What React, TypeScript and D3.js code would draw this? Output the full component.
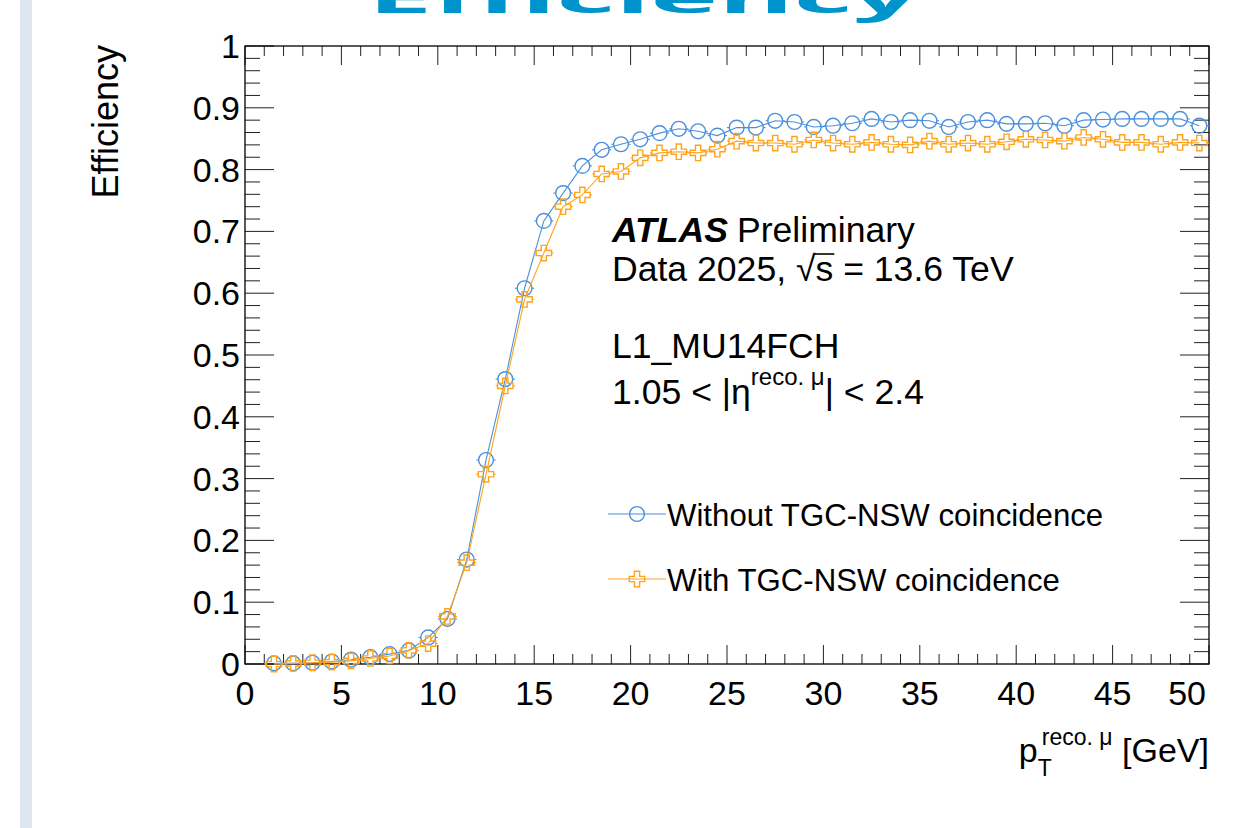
import React, { useRef, useEffect } from 'react';
import * as d3 from 'd3';

// bin centres of p_T (GeV), 1 GeV wide bins
const ptCentres = [
  1.5, 2.5, 3.5, 4.5, 5.5, 6.5, 7.5, 8.5, 9.5, 10.5,
  11.5, 12.5, 13.5, 14.5, 15.5, 16.5, 17.5, 18.5, 19.5, 20.5,
  21.5, 22.5, 23.5, 24.5, 25.5, 26.5, 27.5, 28.5, 29.5, 30.5,
  31.5, 32.5, 33.5, 34.5, 35.5, 36.5, 37.5, 38.5, 39.5, 40.5,
  41.5, 42.5, 43.5, 44.5, 45.5, 46.5, 47.5, 48.5, 49.5,
];
const binHalfWidth = 0.5;

const effWithout = [
  0.001, 0.001, 0.002, 0.004, 0.007, 0.011, 0.016, 0.022, 0.043, 0.073,
  0.169, 0.33, 0.461, 0.608, 0.717, 0.762, 0.806, 0.832, 0.841, 0.849,
  0.859, 0.866, 0.862, 0.855, 0.868, 0.868, 0.879, 0.877, 0.869, 0.871,
  0.875, 0.882, 0.877, 0.88, 0.879, 0.869, 0.877, 0.88, 0.874, 0.874,
  0.875, 0.871, 0.88, 0.881, 0.882, 0.882, 0.882, 0.882, 0.871,
];

const effWith = [
  0.0, 0.001, 0.002, 0.003, 0.005, 0.009, 0.013, 0.022, 0.033, 0.077,
  0.164, 0.307, 0.45, 0.59, 0.665, 0.74, 0.759, 0.793, 0.797, 0.819,
  0.827, 0.829, 0.827, 0.833, 0.846, 0.843, 0.843, 0.841, 0.848, 0.843,
  0.841, 0.844, 0.841, 0.84, 0.846, 0.841, 0.843, 0.841, 0.845, 0.849,
  0.848, 0.846, 0.852, 0.849, 0.844, 0.844, 0.841, 0.844, 0.843,
];

const xTicks = [0, 5, 10, 15, 20, 25, 30, 35, 40, 45, 50];
const yTicks = [0, 0.1, 0.2, 0.3, 0.4, 0.5, 0.6, 0.7, 0.8, 0.9, 1];
const yTickLabels = ['0', '0.1', '0.2', '0.3', '0.4', '0.5', '0.6', '0.7', '0.8', '0.9', '1'];

const legendLabels = ['Without TGC-NSW coincidence', 'With TGC-NSW coincidence'];

const BLUE = '#4a90dc';
const ORANGE = '#ffa31a';
const FONT = 'Liberation Sans, Arial, Helvetica, sans-serif';

const App = () => {
  const svgRef = useRef(null);

  useEffect(() => {
    const width = 1242;
    const height = 828;
    const left = 245;
    const right = 1209;
    const top = 46;
    const bottom = 664;

    const svg = d3.select(svgRef.current);
    svg.selectAll('*').remove();

    const x = d3.scaleLinear().domain([0, 50]).range([left, right]);
    const y = d3.scaleLinear().domain([0, 1]).range([bottom, top]);

    // slide decorations behind the plot
    svg.append('rect').attr('width', width).attr('height', height).attr('fill', '#fff');
    svg
      .append('rect')
      .attr('x', 20)
      .attr('y', 0)
      .attr('width', 12)
      .attr('height', height)
      .attr('fill', '#dde6f1');
    // slide title, only its bottom edge is on the page
    svg
      .append('text')
      .attr('transform', 'translate(368,13) scale(1,0.4)')
      .attr('font-family', 'Open Sans, Liberation Sans, sans-serif')
      .attr('font-weight', 700)
      .attr('font-size', 104)
      .attr('fill', '#0094cc')
      .attr('textLength', 550)
      .attr('lengthAdjust', 'spacingAndGlyphs')
      .text('Efficiency');

    // ticks
    const tickGroup = svg.append('g').attr('stroke', '#222').attr('stroke-width', 1);
    const xMinor = d3.range(0, 51, 1).filter((d) => d % 5 !== 0);
    const yMinor = d3.range(0, 51, 1).filter((d) => d % 5 !== 0).map((d) => d / 50);

    const xTickLine = (vals, len) => {
      vals.forEach((v) => {
        tickGroup.append('line')
          .attr('x1', x(v)).attr('x2', x(v))
          .attr('y1', bottom).attr('y2', bottom - len);
        tickGroup.append('line')
          .attr('x1', x(v)).attr('x2', x(v))
          .attr('y1', top).attr('y2', top + len);
      });
    };
    const yTickLine = (vals, len) => {
      vals.forEach((v) => {
        tickGroup.append('line')
          .attr('x1', left).attr('x2', left + len)
          .attr('y1', y(v)).attr('y2', y(v));
        tickGroup.append('line')
          .attr('x1', right).attr('x2', right - len)
          .attr('y1', y(v)).attr('y2', y(v));
      });
    };
    xTickLine(xTicks, 19);
    xTickLine(xMinor, 10);
    yTickLine(yTicks, 29);
    yTickLine(yMinor, 15);

    // frame
    svg
      .append('rect')
      .attr('x', left)
      .attr('y', top)
      .attr('width', right - left)
      .attr('height', bottom - top)
      .attr('fill', 'none')
      .attr('stroke', '#000')
      .attr('stroke-width', 1.3);

    // tick labels (ROOT pulls the last one back inside the frame)
    svg
      .append('g')
      .selectAll('text')
      .data(xTicks)
      .enter()
      .append('text')
      .attr('x', (d, i) => (i === xTicks.length - 1 ? x(d) - 3 : x(d)))
      .attr('y', bottom + 41)
      .attr('text-anchor', (d, i) => (i === xTicks.length - 1 ? 'end' : 'middle'))
      .attr('font-family', FONT)
      .attr('font-size', 34)
      .text((d) => d);

    svg
      .append('g')
      .selectAll('text')
      .data(yTicks)
      .enter()
      .append('text')
      .attr('x', left - 5)
      .attr('y', (d) => y(d) + 12)
      .attr('text-anchor', 'end')
      .attr('font-family', FONT)
      .attr('font-size', 34)
      .text((d, i) => yTickLabels[i]);

    // axis titles
    svg
      .append('text')
      .attr('transform', `translate(118,${top - 1}) rotate(-90)`)
      .attr('text-anchor', 'end')
      .attr('font-family', FONT)
      .attr('font-size', 36)
      .text('Efficiency');

    const xTitle = svg
      .append('text')
      .attr('x', right)
      .attr('y', 762)
      .attr('text-anchor', 'end')
      .attr('font-family', FONT)
      .attr('font-size', 34);
    xTitle.append('tspan').text('p');
    xTitle.append('tspan').attr('font-size', 23).attr('dy', 14).text('T');
    xTitle.append('tspan').attr('font-size', 23).attr('dx', -9).attr('dy', -31).text('reco. \u03bc');
    xTitle.append('tspan').attr('dy', 17).text(' [GeV]');

    // series
    const clipId = 'plot-clip';
    svg
      .append('clipPath')
      .attr('id', clipId)
      .append('rect')
      .attr('x', left)
      .attr('y', top)
      .attr('width', right - left)
      .attr('height', bottom - top + 10);

    const crossPath = (s, a) =>
      `M${-a},${-s}L${a},${-s}L${a},${-a}L${s},${-a}L${s},${a}L${a},${a}L${a},${s}L${-a},${s}L${-a},${a}L${-s},${a}L${-s},${-a}L${-a},${-a}Z`;

    const R = 7.4;
    const drawSeries = (values, color, marker) => {
      const g = svg.append('g').attr('clip-path', `url(#${clipId})`);
      const pts = ptCentres.map((pt, i) => [pt, values[i]]);
      const line = d3
        .line()
        .x((d) => x(d[0]))
        .y((d) => y(d[1]));
      g.append('path')
        .attr('d', line(pts))
        .attr('fill', 'none')
        .attr('stroke', color)
        .attr('stroke-width', 1.1);

      pts.forEach((d) => {
        const cx = x(d[0]);
        const cy = y(d[1]);
        g.append('line')
          .attr('x1', x(d[0] - binHalfWidth)).attr('x2', cx - R)
          .attr('y1', cy).attr('y2', cy)
          .attr('stroke', color).attr('stroke-width', 1.1);
        g.append('line')
          .attr('x1', cx + R).attr('x2', x(d[0] + binHalfWidth))
          .attr('y1', cy).attr('y2', cy)
          .attr('stroke', color).attr('stroke-width', 1.1);
        if (marker === 'circle') {
          g.append('circle')
            .attr('cx', cx).attr('cy', cy).attr('r', R)
            .attr('fill', 'none').attr('stroke', color).attr('stroke-width', 1.4);
        } else {
          g.append('path')
            .attr('d', crossPath(R + 0.3, 2.6))
            .attr('transform', `translate(${cx},${cy})`)
            .attr('fill', 'none').attr('stroke', color).attr('stroke-width', 1.4);
        }
      });
    };

    drawSeries(effWithout, BLUE, 'circle');
    drawSeries(effWith, ORANGE, 'cross');

    // ATLAS label block
    const LABEL_SIZE = 35.6;
    const atlas = svg
      .append('text')
      .attr('x', 612)
      .attr('y', 242)
      .attr('font-family', FONT)
      .attr('font-size', LABEL_SIZE);
    atlas.append('tspan').attr('font-weight', 700).attr('font-style', 'italic').text('ATLAS');
    atlas.append('tspan').attr('dx', 9).text('Preliminary');

    const dataLine = svg
      .append('text')
      .attr('x', 612)
      .attr('y', 281)
      .attr('font-family', FONT)
      .attr('font-size', LABEL_SIZE);
    const beforeS = 'Data 2025, \u221a';
    dataLine.text(beforeS + 's = 13.6 TeV');
    // bar of the square root over the s
    const dataNode = dataLine.node();
    const sStart = dataNode.getSubStringLength(0, beforeS.length);
    const sWidth = dataNode.getSubStringLength(beforeS.length, 1);
    svg
      .append('line')
      .attr('x1', 612 + sStart - 1)
      .attr('x2', 612 + sStart + sWidth + 1)
      .attr('y1', 281 - 27)
      .attr('y2', 281 - 27)
      .attr('stroke', '#000')
      .attr('stroke-width', 1.6);

    svg
      .append('text')
      .attr('x', 612)
      .attr('y', 358)
      .attr('font-family', FONT)
      .attr('font-size', LABEL_SIZE)
      .text('L1_MU14FCH');

    const etaLine = svg
      .append('text')
      .attr('x', 612)
      .attr('y', 404)
      .attr('font-family', FONT)
      .attr('font-size', LABEL_SIZE);
    etaLine.append('tspan').text('1.05 < |\u03b7');
    etaLine.append('tspan').attr('font-size', 24).attr('dy', -19).text('reco. \u03bc');
    etaLine.append('tspan').attr('dy', 19).text('| < 2.4');

    // legend
    const legendRows = [
      { label: legendLabels[0], color: BLUE, marker: 'circle', cy: 514 },
      { label: legendLabels[1], color: ORANGE, marker: 'cross', cy: 579 },
    ];
    legendRows.forEach((row) => {
      const g = svg.append('g');
      g.append('line')
        .attr('x1', 608).attr('x2', 666)
        .attr('y1', row.cy).attr('y2', row.cy)
        .attr('stroke', row.color).attr('stroke-width', 1.1);
      if (row.marker === 'circle') {
        g.append('circle')
          .attr('cx', 637).attr('cy', row.cy).attr('r', R)
          .attr('fill', 'none').attr('stroke', row.color).attr('stroke-width', 1.4);
      } else {
        g.append('path')
          .attr('d', crossPath(R + 0.3, 2.6))
          .attr('transform', `translate(637,${row.cy})`)
          .attr('fill', 'none').attr('stroke', row.color).attr('stroke-width', 1.4);
      }
      g.append('text')
        .attr('x', 667)
        .attr('y', row.cy + 12)
        .attr('font-family', FONT)
        .attr('font-size', 31.2)
        .text(row.label);
    });
  }, []);

  return (
    <div style={{ position: 'absolute', left: 0, top: 0 }}>
      <svg ref={svgRef} width={1242} height={828} style={{ display: 'block' }} />
    </div>
  );
};

export default App;
